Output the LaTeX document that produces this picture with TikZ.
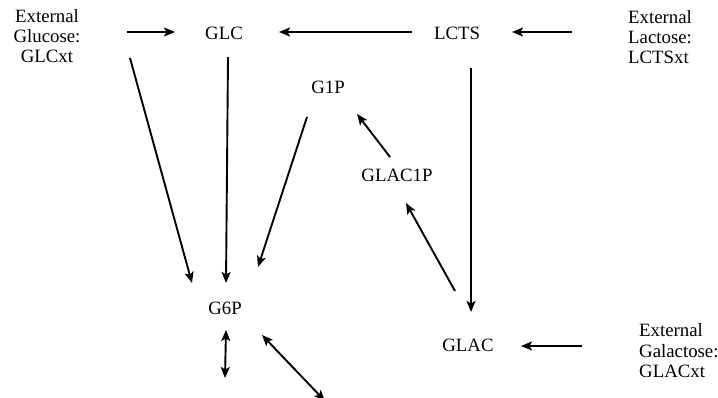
\documentclass[tikz,border=0pt]{standalone}
\usepackage{fontspec}
\setmainfont{Liberation Serif}
\usetikzlibrary{arrows.meta,calc}

\tikzset{
  lbl/.style={inner sep=0pt, font=\fontsize{18.8}{20}\selectfont},
  tip/.tip={Stealth[length=11pt,width=9pt,inset=2.5pt]},
  arr/.style={line width=1.9pt, -tip},
  darr/.style={line width=1.9pt, tip-tip}
}

\begin{document}
\begin{tikzpicture}[x=1pt,y=-1pt]
  \clip (0,0) rectangle (718,398);
  \fill[white] (0,0) rectangle (718,398);

  % metabolites (multi-line labels are placed by their last baseline)
  \node[lbl, anchor=base, align=center] (glcxt) at (47,63) {External\\Glucose:\\GLCxt};
  \node[lbl, anchor=base] (glc) at (224,40) {GLC};
  \node[lbl, anchor=base] (lcts) at (457,40) {LCTS};
  \node[lbl, anchor=base west, align=left] (lctsxt) at (628,64) {External\\Lactose:\\LCTSxt};
  \node[lbl, anchor=base] (g1p) at (328,94) {G1P};
  \node[lbl, anchor=base] (glac1p) at (397,182) {GLAC1P};
  \node[lbl, anchor=base] (g6p) at (225,315) {G6P};
  \node[lbl, anchor=base] (glac) at (468,351) {GLAC};
  \node[lbl, anchor=base west, align=left] (glacxt) at (639,377) {External\\Galactose:\\GLACxt};

  % outgoing ends below G6P
  \coordinate (g6pdown) at (225,378);
  \coordinate (g6pdiag) at (325,401);

  % transport and conversion steps
  \draw[arr] ($(glcxt.base)+(80,-31)$) -- ($(glc.base)+(-49,-8)$);
  \draw[arr] ($(lcts.base)+(-45,-8)$) -- ($(glc.base)+(55,-8)$);
  \draw[arr] ($(lctsxt.base west)+(-56,-32)$) -- ($(lcts.base)+(55,-8)$);
  \draw[arr] ($(glacxt.base west)+(-57,-31)$) -- ($(glac.base)+(53,-5)$);
  \draw[arr] ($(lcts.base)+(14,28)$) -- ($(glac.base)+(3,-39)$);
  \draw[arr] ($(glcxt.base)+(83,-5)$) -- ($(g6p.base)+(-33,-32)$);
  \draw[arr] ($(glc.base)+(4,17)$) -- ($(g6p.base)+(1,-32)$);
  \draw[arr] ($(g1p.base)+(-21,23)$) -- ($(g6p.base)+(33,-48)$);
  \draw[arr] ($(glac1p.base)+(-7,-25)$) -- ($(g1p.base)+(29,20)$);
  \draw[arr] ($(glac.base)+(-13,-60)$) -- ($(glac1p.base)+(9,21)$);
  \draw[darr] ($(g6p.base)+(1,15)$) -- (g6pdown);
  \draw[darr] ($(g6p.base)+(37,20)$) -- (g6pdiag);
\end{tikzpicture}
\end{document}
